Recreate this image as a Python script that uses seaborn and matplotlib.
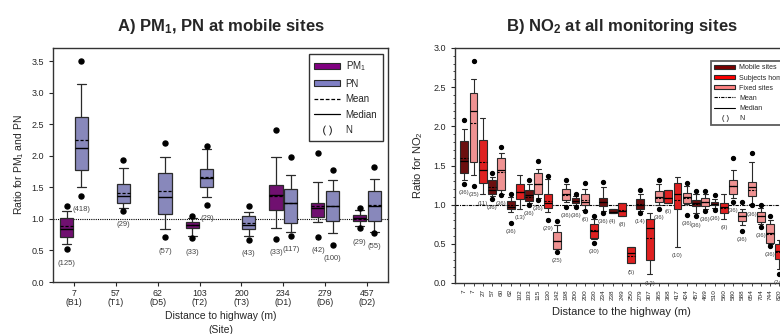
import numpy as np
import pandas as pd
import matplotlib
matplotlib.use("Agg")
import matplotlib.pyplot as plt
from matplotlib.lines import Line2D
from matplotlib.patches import Patch
from matplotlib.ticker import MultipleLocator
import seaborn as sns

nan = np.nan

# ---------------- Panel A: PM1 / PN at mobile sites ----------------
a_dist = ["7", "57", "62", "103", "200", "234", "279", "457"]
a_site = ["B1", "T1", "D5", "T2", "T3", "D1", "D6", "D2"]

pm1_out_lo  = [0.52, nan, nan, 0.69, nan, 0.68, 0.72, 0.85]
pm1_whis_lo = [0.60, nan, nan, 0.73, nan, 0.85, 0.95, 0.89]
pm1_q1      = [0.71, nan, nan, 0.86, nan, 1.14, 1.03, 0.96]
pm1_median  = [0.84, nan, nan, 0.90, nan, 1.38, 1.17, 1.01]
pm1_q3      = [1.01, nan, nan, 0.95, nan, 1.53, 1.25, 1.06]
pm1_whis_hi = [1.12, nan, nan, 1.02, nan, 1.98, 1.59, 1.14]
pm1_out_hi  = [1.20, nan, nan, 1.05, nan, 2.41, 2.05, 1.17]
pm1_mean    = [0.89, nan, nan, 0.91, nan, 1.37, 1.21, 1.00]
pm1_n       = [125, None, None, 33, None, 33, 42, 29]

pn_out_lo  = [1.37, 1.13, 0.71, 1.22, 0.67, 0.73, 0.59, 0.78]
pn_whis_lo = [1.51, 1.18, 0.84, 1.34, 0.73, 0.79, 0.77, 0.80]
pn_q1      = [1.77, 1.25, 1.08, 1.50, 0.84, 0.94, 0.96, 0.96]
pn_median  = [2.13, 1.37, 1.35, 1.65, 0.91, 1.26, 1.21, 1.20]
pn_q3      = [2.61, 1.55, 1.73, 1.79, 1.05, 1.48, 1.45, 1.44]
pn_whis_hi = [3.14, 1.81, 1.98, 2.11, 1.11, 1.69, 1.61, 1.63]
pn_out_hi  = [3.51, 1.94, 2.20, 2.15, 1.21, 1.98, 1.77, 1.82]
pn_mean    = [2.25, 1.41, 1.44, 1.66, 0.93, 1.25, 1.20, 1.22]
pn_n       = [418, 29, 57, 29, 43, 117, 100, 55]

# ---------------- Panel B: NO2 at all monitoring sites ----------------
b_dist = ["7", "7", "27", "57", "60", "62", "102", "103", "115", "130", "142",
          "198", "200", "200", "230", "234", "238", "249", "250", "279", "307",
          "365", "368", "417", "424", "457", "469", "510", "560", "580", "588",
          "654", "704", "744", "820"]
b_type = ["Mobile sites", "Fixed sites", "Subjects home", "Mobile sites", "Fixed sites",
          "Mobile sites", "Subjects home", "Mobile sites", "Fixed sites", "Subjects home",
          "Fixed sites", "Fixed sites", "Mobile sites", "Fixed sites", "Subjects home",
          "Mobile sites", "Mobile sites", "Subjects home", "Subjects home", "Mobile sites",
          "Subjects home", "Fixed sites", "Subjects home", "Subjects home", "Fixed sites",
          "Mobile sites", "Fixed sites", "Mobile sites", "Subjects home", "Fixed sites",
          "Fixed sites", "Fixed sites", "Fixed sites", "Fixed sites", "Subjects home"]
no2_out_lo  = [1.27, 1.24, nan, 1.07, 1.12, 0.77, nan, 1.00, 1.06, 0.80, 0.40, 0.97,
               0.97, 0.92, 0.51, 0.90, nan, nan, nan, 0.90, nan, 0.95, nan, nan, 0.87,
               0.85, 0.92, 0.93, nan, 1.03, 0.67, 0.99, 0.72, 0.47, 0.12]
no2_whis_lo = [1.31, 1.38, 1.13, 1.11, 1.13, 0.91, 0.95, 1.02, 1.08, 0.91, 0.43, 1.04,
               0.99, 0.93, 0.56, 0.92, 0.89, 0.86, 0.25, 0.92, 0.11, 0.99, 1.02, 0.46, 1.01,
               0.90, 0.94, 0.96, 0.82, 1.08, 0.74, 1.01, 0.75, 0.50, 0.18]
no2_q1      = [1.41, 1.55, 1.28, 1.13, 1.19, 0.94, 1.07, 1.05, 1.13, 0.96, 0.44, 1.06,
               1.02, 0.99, 0.58, 0.98, 0.89, 0.86, 0.25, 0.94, 0.30, 1.03, 1.02, 0.94, 1.02,
               0.98, 0.98, 1.00, 0.90, 1.14, 0.79, 1.11, 0.78, 0.51, 0.31]
no2_median  = [1.56, 2.19, 1.44, 1.19, 1.44, 0.97, 1.16, 1.12, 1.27, 1.02, 0.54, 1.14,
               1.05, 1.04, 0.66, 1.04, 0.91, 0.92, 0.38, 0.99, 0.70, 1.10, 1.09, 1.13, 1.10,
               1.02, 1.04, 1.01, 0.97, 1.24, 0.85, 1.22, 0.85, 0.64, 0.41]
no2_q3      = [1.81, 2.42, 1.83, 1.32, 1.59, 1.05, 1.27, 1.19, 1.40, 1.13, 0.65, 1.20,
               1.08, 1.14, 0.75, 1.08, 0.94, 1.02, 0.46, 1.07, 0.82, 1.17, 1.19, 1.28, 1.15,
               1.06, 1.09, 1.03, 1.02, 1.32, 0.91, 1.29, 0.91, 0.75, 0.50]
no2_whis_hi = [1.97, 2.60, 2.10, 1.35, 1.66, 1.10, 1.38, 1.27, 1.46, 1.33, 0.74, 1.27,
               1.11, 1.20, 0.82, 1.23, 0.94, 1.02, 0.46, 1.13, 0.90, 1.26, 1.19, 1.35, 1.24,
               1.14, 1.14, 1.07, 1.13, 1.44, 0.94, 1.55, 0.96, 0.80, 0.55]
no2_out_hi  = [2.08, 2.83, nan, 1.40, 1.74, 1.14, nan, 1.32, 1.56, 1.36, 0.79, 1.32,
               1.14, 1.28, 0.85, 1.29, nan, nan, nan, 1.19, nan, 1.32, nan, nan, 1.28,
               1.17, 1.17, 1.12, nan, 1.59, 1.04, 1.66, 0.99, 0.85, nan]
no2_mean    = [1.59, 2.04, 1.54, 1.22, 1.42, 0.99, 1.16, 1.10, 1.27, 1.05, 0.53, 1.12,
               1.05, 1.06, 0.68, 1.03, 0.91, 0.93, 0.35, 1.01, 0.58, 1.09, 1.09, 1.06, 1.08,
               1.01, 1.04, 1.01, 0.96, 1.24, 0.85, 1.19, 0.85, 0.63, 0.40]
no2_n       = [36, 35, 11, 36, 36, 36, 13, 36, 36, 29, 25, 36, 36, 6, 30, 36, 4, 8, 5,
               14, 12, 36, 6, 10, 36, 36, 36, 36, 9, 36, 36, 36, 36, 36, 24]

# ---------------- styling ----------------
sns.set_style("ticks")
plt.rcParams["font.family"] = ["Liberation Sans", "DejaVu Sans"]
plt.rcParams["mathtext.fontset"] = "custom"
plt.rcParams["mathtext.rm"] = "Liberation Sans"
plt.rcParams["mathtext.it"] = "Liberation Sans:italic"
plt.rcParams["mathtext.bf"] = "Liberation Sans:bold"
plt.rcParams["axes.linewidth"] = 1.0

PM1_COL = "#800080"
PN_COL = "#7f7fc4"
TYPE_COL = {"Mobile sites": "#7a0000", "Subjects home": "#ff0000", "Fixed sites": "#ff8282"}
EDGE = "#2a2a2a"


def sample(lo_out, wlo, q1, med, q3, whi, hi_out):
    """9-point set whose quartiles / 10-90 whiskers / outliers reproduce the read box."""
    lo_out = wlo if np.isnan(lo_out) else lo_out
    hi_out = whi if np.isnan(hi_out) else hi_out
    return [lo_out, wlo, q1, med, med, med, q3, whi, hi_out]


rows = []
for i, d in enumerate(a_dist):
    if not np.isnan(pm1_median[i]):
        for v in sample(pm1_out_lo[i], pm1_whis_lo[i], pm1_q1[i], pm1_median[i],
                        pm1_q3[i], pm1_whis_hi[i], pm1_out_hi[i]):
            rows.append((d, "PM1", v))
    for v in sample(pn_out_lo[i], pn_whis_lo[i], pn_q1[i], pn_median[i],
                    pn_q3[i], pn_whis_hi[i], pn_out_hi[i]):
        rows.append((d, "PN", v))
dfA = pd.DataFrame(rows, columns=["dist", "series", "ratio"])

b_keys = [f"{i}" for i in range(len(b_dist))]
rows = []
for i, k in enumerate(b_keys):
    for v in sample(no2_out_lo[i], no2_whis_lo[i], no2_q1[i], no2_median[i],
                    no2_q3[i], no2_whis_hi[i], no2_out_hi[i]):
        rows.append((k, b_type[i], v))
dfB = pd.DataFrame(rows, columns=["key", "type", "ratio"])

fig = plt.figure(figsize=(7.8, 3.34), dpi=100)
axA = fig.add_axes([53 / 780, 1 - 282 / 334, 335 / 780, 234 / 334])
axB = fig.add_axes([455 / 780, 1 - 283 / 334, 333.7 / 780, 235 / 334])

flier = dict(marker="o", markerfacecolor="black", markeredgecolor="black", markersize=3.6)

# ---- Panel A ----
A_WIDTH, A_GAP = 0.7, 0.1
sns.boxplot(data=dfA, x="dist", y="ratio", hue="series", order=a_dist,
            hue_order=["PM1", "PN"], palette={"PM1": PM1_COL, "PN": PN_COL},
            dodge=True, width=A_WIDTH, gap=A_GAP, whis=(10, 90), linecolor=EDGE,
            linewidth=0.9, flierprops=flier, medianprops=dict(color="black", linewidth=1.0),
            capwidths=0.22, legend=False, ax=axA)
axA.axhline(1.0, color="black", ls=(0, (1, 1)), lw=0.8, zorder=0.5)

slot = A_WIDTH / 2
hw = slot * (1 - A_GAP) / 2
for i in range(len(a_dist)):
    for off, mean, lo_o, wlo, n in ((-slot / 2, pm1_mean[i], pm1_out_lo[i], pm1_whis_lo[i], pm1_n[i]),
                                    (slot / 2, pn_mean[i], pn_out_lo[i], pn_whis_lo[i], pn_n[i])):
        if n is None:
            continue
        x = i + off
        axA.hlines(mean, x - hw, x + hw, colors="black", linestyles=(0, (2.5, 1.5)),
                   linewidth=0.9, zorder=5)
        low = np.nanmin([lo_o, wlo])
        axA.text(x, low - 0.22, f"({n})", ha="center", va="center", fontsize=5.5,
                 color="#444444")

axA.set_xlim(-0.5, len(a_dist) - 0.5)
axA.set_ylim(0, 3.71)
axA.yaxis.set_major_locator(MultipleLocator(0.5))
axA.yaxis.set_major_formatter(matplotlib.ticker.FormatStrFormatter("%.1f"))
axA.set_xticks(range(len(a_dist)))
axA.set_xticklabels([f"{d}\n({s})" for d, s in zip(a_dist, a_site)], fontsize=6.3,
                    linespacing=1.05)
axA.tick_params(axis="y", labelsize=6.5, length=3, width=0.8)
axA.tick_params(axis="x", length=3, width=0.8, pad=2)
axA.set_xlabel("Distance to highway (m)\n(Site)", fontsize=7.5, labelpad=3, linespacing=1.5)
axA.set_ylabel("Ratio for PM$_1$ and PN", fontsize=7.5, labelpad=4)
axA.set_title(r"A) PM$_\mathbf{1}$, PN at mobile sites", fontsize=12, fontweight="bold", pad=12)
for s in axA.spines.values():
    s.set_visible(True)
    s.set_color("#333333")

handlesA = [
    Patch(facecolor=PM1_COL, edgecolor=EDGE, linewidth=0.8, label="PM$_1$"),
    Patch(facecolor=PN_COL, edgecolor=EDGE, linewidth=0.8, label="PN"),
    Line2D([], [], color="black", ls=(0, (3, 1.5)), lw=0.9, label="Mean"),
    Line2D([], [], color="black", ls="-", lw=0.9, label="Median"),
    Line2D([], [], color="black", ls="none", marker=r"$(\,\,)$", markersize=7,
           markeredgewidth=0, label="N"),
]
legA = axA.legend(handles=handlesA, loc="upper right", bbox_to_anchor=(0.985, 0.975),
                  fontsize=7, frameon=True, fancybox=False, handlelength=2.6,
                  handleheight=0.6, labelspacing=0.55, borderpad=0.6, handletextpad=0.6,
                  borderaxespad=0)
legA.get_frame().set_edgecolor("black")
legA.get_frame().set_linewidth(1.0)

# ---- Panel B ----
B_WIDTH = 0.85
sns.boxplot(data=dfB, x="key", y="ratio", hue="type", order=b_keys,
            hue_order=["Mobile sites", "Subjects home", "Fixed sites"], palette=TYPE_COL,
            dodge=False, width=B_WIDTH, whis=(10, 90), linecolor=EDGE, linewidth=0.8,
            flierprops=dict(flier, markersize=2.8),
            medianprops=dict(color="black", linewidth=0.9),
            capwidths=0.55, legend=False, ax=axB)
axB.axhline(1.0, color="black", ls=(0, (3, 1, 1, 1)), lw=0.8, zorder=0.5)
for i in range(len(b_keys)):
    axB.hlines(no2_mean[i], i - B_WIDTH / 2, i + B_WIDTH / 2, colors="black",
               linestyles=(0, (2, 1.2)), linewidth=0.8, zorder=5)
    low = np.nanmin([no2_out_lo[i], no2_whis_lo[i]])
    axB.text(i, low - 0.11, f"({no2_n[i]})", ha="center", va="center", fontsize=4.3,
             color="#444444")

axB.set_xlim(-1, 35)
axB.set_ylim(0, 3.0)
axB.yaxis.set_major_locator(MultipleLocator(0.5))
axB.yaxis.set_minor_locator(MultipleLocator(0.1))
axB.yaxis.set_major_formatter(matplotlib.ticker.FormatStrFormatter("%.1f"))
axB.set_xticks(range(len(b_dist)))
axB.set_xticklabels(b_dist, rotation=90, fontsize=4.6)
axB.tick_params(axis="y", which="major", labelsize=6.5, length=3, width=0.8)
axB.tick_params(axis="y", which="minor", length=1.6, width=0.6)
axB.tick_params(axis="x", length=2.5, width=0.6, pad=2)
axB.set_xlabel("Distance to the highway (m)", fontsize=8, labelpad=5)
axB.set_ylabel("Ratio for NO$_2$", fontsize=8, labelpad=6)
axB.set_title("B) NO$_\\mathbf{2}$ at all monitoring sites", fontsize=12, fontweight="bold", pad=12)
for s in axB.spines.values():
    s.set_visible(True)
    s.set_color("#333333")

handlesB = [Patch(facecolor=TYPE_COL[t], edgecolor=EDGE, linewidth=0.8, label=t)
            for t in ["Mobile sites", "Subjects home", "Fixed sites"]]
handlesB += [
    Line2D([], [], color="black", ls=(0, (3, 1, 1, 1)), lw=0.8, label="Mean"),
    Line2D([], [], color="black", ls="-", lw=0.8, label="Median"),
    Line2D([], [], color="black", ls="none", marker=r"$(\,\,)$", markersize=5,
           markeredgewidth=0, label="N"),
]
legB = axB.legend(handles=handlesB, loc="upper left", bbox_to_anchor=(0.767, 0.945),
                  fontsize=5, frameon=True, fancybox=False, handlelength=3.0,
                  handleheight=0.55, labelspacing=0.45, borderpad=0.5, handletextpad=0.6,
                  borderaxespad=0)
legB.get_frame().set_edgecolor("#333333")
legB.get_frame().set_linewidth(1.3)

fig.savefig("out.png", dpi=100)
